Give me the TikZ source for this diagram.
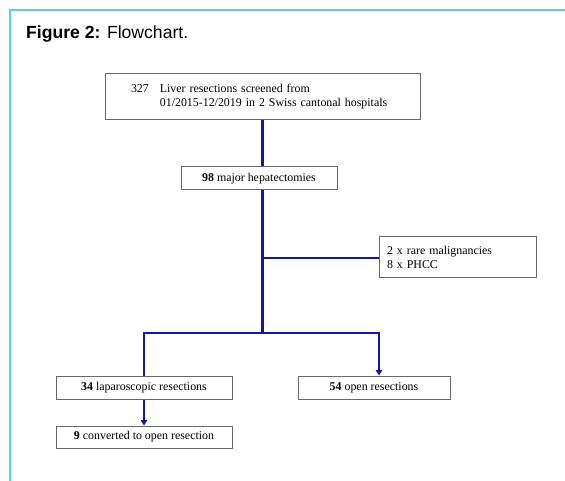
\documentclass[tikz,border=0pt]{standalone}
\usepackage{fontspec}
\setmainfont{Liberation Serif}
\newfontfamily\arialf{Liberation Sans}
\usetikzlibrary{arrows.meta}
\definecolor{frame}{RGB}{95,205,220}
\definecolor{flow}{RGB}{15,25,165}
\definecolor{boxline}{RGB}{105,105,105}
\tikzset{
  box/.style={draw=boxline, line width=1pt, inner sep=0pt, font=\fontsize{11.9}{14}\selectfont},
  conn/.style={draw=flow, line width=2.7pt},
  arr/.style={conn, -{Triangle[width=6.5pt,length=5.5pt]}}
}
\begin{document}
\begin{tikzpicture}[x=1pt,y=-1pt]
\useasboundingbox (0,0) rectangle (565,481);
\draw[frame, line width=1.5pt] (10,481) -- (10,10) -- (565,10);
\node[anchor=base west, font=\arialf\fontsize{17.6}{20}\selectfont, inner sep=0pt] (title) at (26,39) {\textbf{Figure 2:} Flowchart.};
\node[box, minimum height=46pt, inner xsep=26pt, text width=263pt, align=left] (top) at (262.5,97)
  {\begin{tabular}{@{}l@{\hspace{11pt}}l@{}}327 & Liver resections screened from\\ & 01/2015-12/2019 in 2 Swiss cantonal hospitals\end{tabular}};
\node[box, minimum width=156pt, minimum height=23pt] (hep) at (259,178.5) {\textbf{98} major hepatectomies};
\node[box, minimum height=40pt, inner xsep=8pt, text width=141pt, align=left] (side) at (457.5,257)
  {2 x rare malignancies\\8 x PHCC};
\node[box, minimum width=176pt, minimum height=23pt] (lap) at (144,387.5) {\textbf{34} laparoscopic resections};
\node[box, minimum width=152pt, minimum height=23pt] (open) at (374,387.5) {\textbf{54} open resections};
\node[box, minimum width=176pt, minimum height=22pt] (conv) at (144,437) {\textbf{9} converted to open resection};
\coordinate (split) at (262.5,333);
\coordinate (branch) at (262.5,258);
\coordinate (rdrop) at (379,333);
\draw[conn] (top.south) -- (top.south |- hep.north);
\draw[conn] (hep.south -| top.south) -- (split);
\draw[conn] (branch) -- (side.west |- branch);
\draw[conn] (split) -- (split -| lap.north) -- (lap.north);
\draw[arr] (split) -- (rdrop) -- (rdrop |- open.north);
\draw[arr] (lap.south) -- (conv.north);
\end{tikzpicture}
\end{document}
